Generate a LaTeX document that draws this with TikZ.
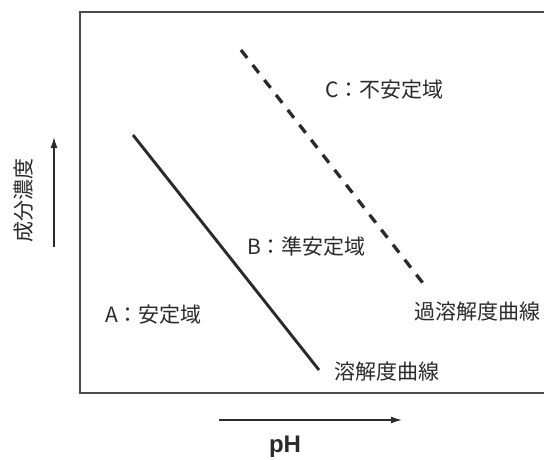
\documentclass[tikz,border=0pt]{standalone}
\usepackage{fontspec}
\setmainfont{Noto Sans CJK JP}
\newfontfamily\latinsans{Liberation Sans}
\usetikzlibrary{arrows.meta}
\definecolor{ink}{HTML}{2A2A2A}
\tikzset{
  lbl/.style={text=ink, inner sep=0pt, font=\fontsize{21}{22}\selectfont},
  axisarrow/.style={draw=ink, line width=1.4pt, -{Latex[length=11pt,width=7pt]}},
  curve/.style={draw=ink, line width=2.9pt},
  dashcurve/.style={draw=ink, line width=3.3pt, dash pattern=on 10pt off 9pt},
}
\begin{document}
\begin{tikzpicture}[x=1pt,y=-1pt]
\useasboundingbox (0,0) rectangle (544,459);
\fill[white] (0,0) rectangle (544,459);
% frame (right side outside the picture)
\draw[draw=ink!85, line width=1.5pt] (546,12) -- (80,12) -- (80,393) -- (546,393);
% curves
\coordinate (s1) at (133,135);
\coordinate (s2) at (319,370);
\coordinate (d1) at (241,50);
\coordinate (d2) at (426,287);
\draw[curve] (s1) -- (s2);
\draw[dashcurve] (d1) -- (d2);
% labels
\node[lbl, anchor=west] (C) at (325,90) {C：不安定域};
\node[lbl, anchor=west] (B) at (247,247) {B：準安定域};
\node[lbl, anchor=west] (A) at (105,315) {A：安定域};
\node[lbl, anchor=west] (sup) at (414,312) {過溶解度曲線};
\node[lbl, anchor=west] (sol) at (334,372) {溶解度曲線};
% axes
\coordinate (ya) at (54,247);
\coordinate (yb) at (54,137);
\draw[axisarrow] (ya) -- (yb);
\node[lbl, rotate=90] (ylab) at (24,200) {成分濃度};
\coordinate (xa) at (219,420);
\coordinate (xb) at (402,420);
\draw[axisarrow] (xa) -- (xb);
\node[lbl, font=\latinsans\bfseries\fontsize{24}{26}\selectfont] (xlab) at (285,447) {pH};
\end{tikzpicture}
\end{document}
